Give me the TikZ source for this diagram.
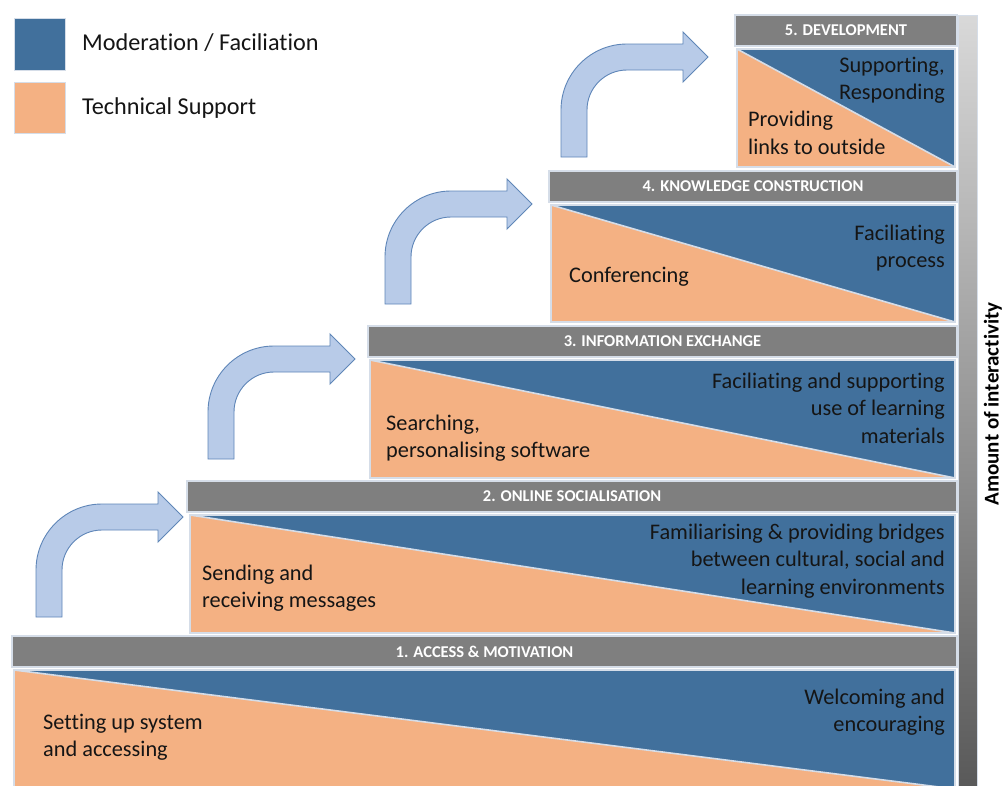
\documentclass[tikz,border=0pt]{standalone}
\usepackage{fontspec}
\setmainfont[Ligatures=NoCommon]{Carlito}
\definecolor{modblue}{HTML}{41709C}
\definecolor{techor}{HTML}{F4B183}
\definecolor{hdrgray}{HTML}{7F7F7F}
\definecolor{edgec}{HTML}{D5DDE8}
\definecolor{arrfill}{HTML}{B8CBE8}
\definecolor{arrdraw}{HTML}{5F86B8}
\definecolor{txtc}{HTML}{151515}
\tikzset{
  hdrbar/.style={fill=hdrgray, draw=edgec, line width=1.2pt},
  bodyedge/.style={draw=edgec, line width=1.2pt},
  hdrtext/.style={text=white, font=\bfseries\fontsize{16.5}{19}\selectfont, inner sep=0pt},
  bodytext/.style={text=txtc, font=\fontsize{22.3}{27.5}\selectfont, inner sep=0pt},
  lgtext/.style={text=txtc, font=\fontsize{24.2}{28}\selectfont, inner sep=0pt, anchor=west},
  diagline/.style={draw=edgec, line width=1.6pt},
  pics/bentarrow/.style={code={
    \path[fill=arrfill, draw=arrdraw, line width=0.9pt, line join=miter]
      (-147,100) -- (-147,53) .. controls (-147,16.55) and (-117.45,-13) .. (-81,-13)
      -- (-25,-13) -- (-25,-25) -- (0,0) -- (-25,25) -- (-25,13) -- (-81,13)
      .. controls (-103.09,13) and (-121,30.91) .. (-121,53) -- (-121,100) -- cycle;
  }}
}
\begin{document}
\begin{tikzpicture}[x=1pt,y=-1pt]
\useasboundingbox (0,0) rectangle (1004,785);
\fill[white] (0,0) rectangle (1004,785);

% legend
\fill[modblue, draw=edgec, line width=0.8pt] (14,18) rectangle (65,70);
\fill[techor, draw=edgec, line width=0.8pt] (14,82) rectangle (65,133);
\node[lgtext] (lg1) at (82,43) {Moderation / Faciliation};
\node[lgtext] (lg2) at (82,108) {Technical Support};

% gradient bar
\shade[top color=black!15, bottom color=black!65, draw=edgec, line width=0.8pt] (958,15) rectangle (977,786);
\node[rotate=90, text=black, font=\bfseries\fontsize{21}{24}\selectfont, inner sep=0pt] (amount) at (993,404) {Amount of interactivity};

% step bodies
\foreach \l/\t/\b in {14/670/789, 190/515/633, 370/360/478, 551/205/322, 737/49/167}{
  \fill[modblue] (\l,\t) rectangle (955,\b);
  \fill[techor] (\l,\t) -- (955,\b) -- (\l,\b) -- cycle;
  \draw[diagline] (\l,\t) -- (955,\b);
  \draw[bodyedge] (\l,\t) rectangle (955,\b);
}

% headers
\foreach \l/\t/\b/\n in {12/636/667/1, 187/481/512/2, 368/326/357/3, 549/171/202/4, 735/15/46/5}{
  \draw[hdrbar] (\l,\t) rectangle (957,\b);
  \coordinate (h\n) at ({(\l+957)/2},{(\t+\b)/2});
}
\node[hdrtext] (t1) at (h1) {1. ACCESS \& MOTIVATION};
\node[hdrtext] (t2) at (h2) {2. ONLINE SOCIALISATION};
\node[hdrtext] (t3) at (h3) {3. INFORMATION EXCHANGE};
\node[hdrtext] (t4) at (h4) {4. KNOWLEDGE CONSTRUCTION};
\node[hdrtext] (t5) at (h5) {5. DEVELOPMENT};

% body texts
\node[bodytext, anchor=east, align=right] (r5) at (945,80) {Supporting,\\Responding};
\node[bodytext, anchor=west, align=left] (l5) at (748,133) {Providing\\links to outside};
\node[bodytext, anchor=east, align=right] (r4) at (945,248) {Faciliating\\process};
\node[bodytext, anchor=west, align=left] (l4) at (569,277) {Conferencing};
\node[bodytext, anchor=east, align=right] (r3) at (945,408) {Faciliating and supporting\\use of learning\\materials};
\node[bodytext, anchor=west, align=left] (l3) at (386,438) {Searching,\\personalising software};
\node[bodytext, anchor=east, align=right] (r2) at (945,561) {Familiarising \& providing bridges\\between cultural, social and\\learning environments};
\node[bodytext, anchor=west, align=left] (l2) at (202,588) {Sending and\\receiving messages};
\node[bodytext, anchor=east, align=right] (r1) at (945,712) {Welcoming and\\encouraging};
\node[bodytext, anchor=west, align=left] (l1) at (43,737) {Setting up system\\and accessing};

% arrows
\pic at (183,517) {bentarrow};
\pic at (355,359) {bentarrow};
\pic at (532,204) {bentarrow};
\pic at (708,57) {bentarrow};
\end{tikzpicture}
\end{document}
